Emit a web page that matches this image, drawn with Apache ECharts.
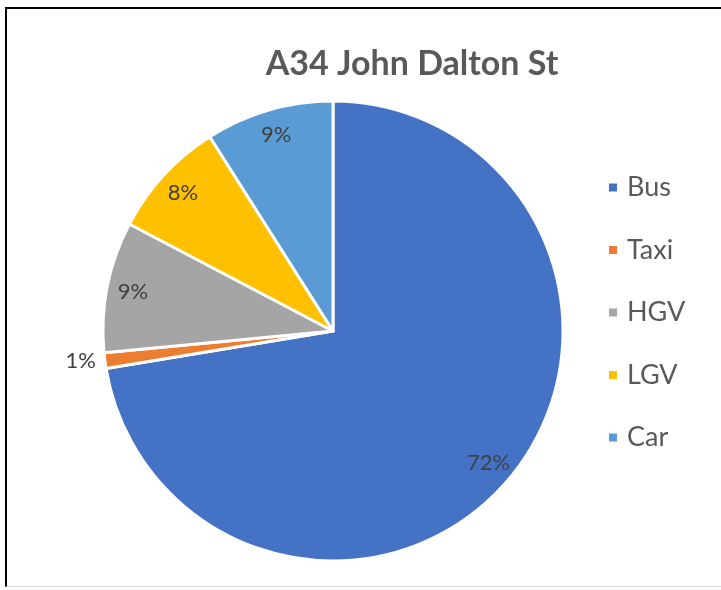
<!DOCTYPE html>
<html>
<head>
<meta charset="utf-8">
<script src="https://cdn.jsdelivr.net/npm/echarts@6/dist/echarts.min.js"></script>
<style>
html,body{margin:0;padding:0;background:#fff;}
#frame{position:absolute;left:5px;top:7px;width:716px;height:580px;border-left:2px solid #000;border-top:2px solid #000;border-bottom:1px solid #d9d9d9;box-sizing:border-box;}
#chart{position:absolute;left:0;top:0;width:721px;height:590px;}
</style>
</head>
<body>
<div id="frame"></div>
<div id="chart"></div>
<script>
const titleText = 'A34 John Dalton St';
const categories = ['Bus', 'Taxi', 'HGV', 'LGV', 'Car'];
const values = [72.4, 1.1, 9.2, 8.3, 9.0];
const colors = ['#4472C4', '#ED7D31', '#A5A5A5', '#FFC000', '#5B9BD5'];

const chart = echarts.init(document.getElementById('chart'), null, {renderer: 'canvas'});
const data = categories.map((c, i) => ({name: c, value: values[i], itemStyle: {color: colors[i]}}));
const labelData = categories.map((c, i) => {
  const d = {name: c, value: values[i]};
  if (values[i] < 3) {
    d.label = {position: 'outside'};
  }
  return d;
});
const fmt = p => Math.round(p.percent) + '%';
chart.setOption({
  animation: false,
  title: {
    text: titleText,
    left: 407, top: 42, textAlign: 'center',
    textStyle: {fontFamily: 'Lato', fontWeight: 'bold', fontSize: 34, color: '#595959'}
  },
  legend: {
    orient: 'vertical',
    left: 602, top: 169,
    itemWidth: 10, itemHeight: 10, itemGap: 35.5,
    icon: 'rect',
    data: categories,
    textStyle: {fontFamily: 'Lato', fontSize: 27, color: '#595959', padding: [0, 0, 0, 4]}
  },
  series: [
    {
      type: 'pie',
      center: [333, 331],
      radius: [0, 230],
      startAngle: 90,
      clockwise: true,
      data: data,
      label: {show: false},
      labelLine: {show: false},
      itemStyle: {borderColor: '#fff', borderWidth: 3},
      emphasis: {disabled: true}
    },
    {
      type: 'pie',
      center: [333, 331],
      radius: [172, 230],
      startAngle: 90,
      clockwise: true,
      silent: true,
      legendHoverLink: false,
      data: labelData,
      itemStyle: {color: 'rgba(0,0,0,0)'},
      label: {
        show: true, position: 'inside', formatter: fmt,
        fontFamily: 'Lato', fontSize: 22, color: '#404040'
      },
      labelLine: {show: false, length: 4, length2: 0},
      emphasis: {disabled: true},
      tooltip: {show: false}
    }
  ]
});
</script>
</body>
</html>
